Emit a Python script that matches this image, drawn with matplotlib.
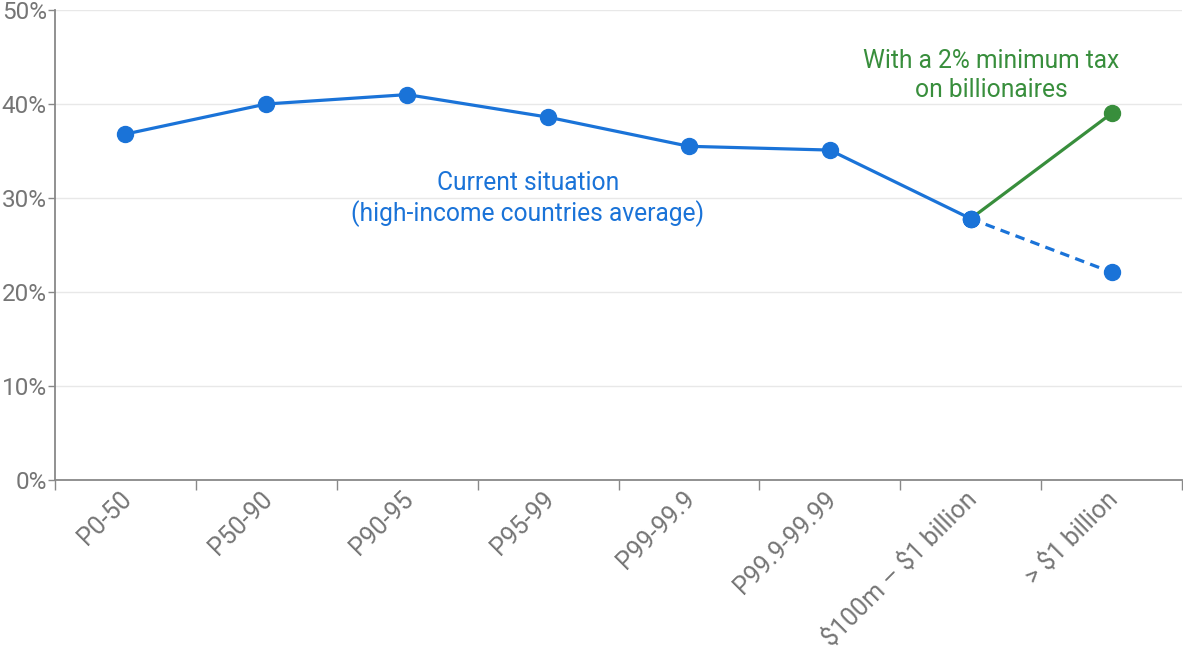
import matplotlib.pyplot as plt
from matplotlib.ticker import FixedLocator
from matplotlib.transforms import ScaledTranslation

plt.rcParams['font.family'] = ['Roboto', 'DejaVu Sans']

groups = ['P0-50', 'P50-90', 'P90-95', 'P95-99', 'P99-99.9',
          'P99.9-99.99', r'\$100m – \$1 billion', r'> \$1 billion']
current = [36.8, 40.0, 41.0, 38.6, 35.5, 35.1, 27.8, 22.1]
with_tax = [27.8, 39.0]

blue = '#1a73d8'
green = '#388e3c'
grey = '#757575'

fig = plt.figure(figsize=(11.83, 6.5), dpi=100)
ax = fig.add_axes([55 / 1183, 1 - 480 / 650, 1127 / 1183, 470 / 650])

x = list(range(len(groups)))
# solid part up to the $100m group, dashed to billionaires
ax.plot(x[:7], current[:7], color=blue, lw=2.3, marker='o', ms=11.5, zorder=3)
ax.plot(x[6:], current[6:], color=blue, lw=2.3, ls=(0, (3, 2)), marker='o', ms=11.5, zorder=3)
ax.plot(x[6:], with_tax, color=green, lw=2.3, zorder=2)
ax.plot(x[7], with_tax[1], color=green, marker='o', ms=11.5, zorder=3)
ax.plot(x[6], current[6], color=blue, marker='o', ms=11.5, zorder=4)

ax.text(2.855, 29.9, 'Current situation\n(high-income countries average)',
        color=blue, fontsize=17.7, ha='center', va='center', linespacing=1.25)
ax.text(6.145, 43.0, 'With a 2% minimum tax\non billionaires',
        color=green, fontsize=17.7, ha='center', va='center', linespacing=1.25)

ax.set_xlim(-0.5, 7.5)
ax.set_ylim(0, 50)
ax.set_yticks(range(0, 51, 10))
ax.set_yticklabels([f'{v}%' for v in range(0, 51, 10)])
ax.set_xticks(x)
ax.set_xticklabels(groups, rotation=45, ha='right', va='top', rotation_mode='anchor')
ax.xaxis.set_minor_locator(FixedLocator([i - 0.5 for i in range(len(groups) + 1)]))
ax.tick_params(axis='x', which='major', length=0, pad=5, labelsize=18, labelcolor=grey)
ax.tick_params(axis='x', which='minor', length=7, width=1, color='#888888', direction='out')
ax.tick_params(axis='y', length=5, width=1, color='#888888', pad=1, labelsize=17.5, labelcolor=grey)

# nudge the rotated labels a little to the left
shift = ScaledTranslation(-6 / 100, 0, fig.dpi_scale_trans)
for lab in ax.get_xticklabels():
    lab.set_transform(lab.get_transform() + shift)

ax.grid(axis='y', color='#e8e8e8', lw=1)
ax.set_axisbelow(True)
for s in ['top', 'right']:
    ax.spines[s].set_visible(False)
for s in ['left', 'bottom']:
    ax.spines[s].set_color('#888888')
    ax.spines[s].set_linewidth(1.3)

fig.savefig('out.png', dpi=100)
